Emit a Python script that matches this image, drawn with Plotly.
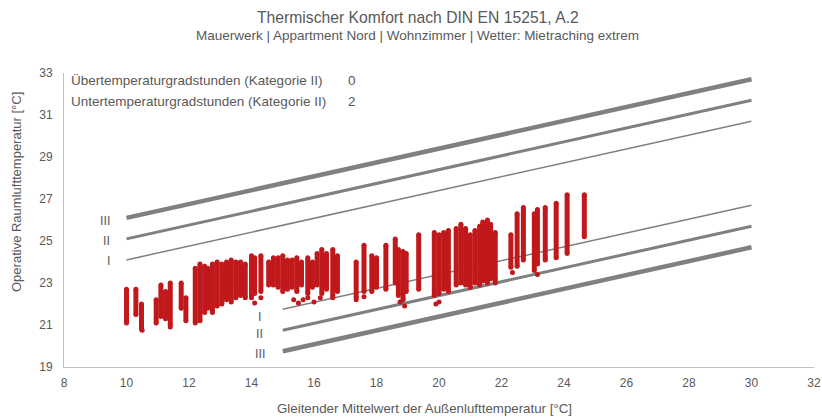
import plotly.graph_objects as go

# ---- data ----
# comfort category boundary lines (DIN EN 15251, A.2), endpoints
upper_x = [10, 30]
upper_I = [24.1, 30.7]
upper_II = [25.1, 31.7]
upper_III = [26.1, 32.7]
lower_x = [15, 30]
lower_I = [21.75, 26.7]
lower_II = [20.75, 25.7]
lower_III = [19.75, 24.7]

# measured hourly values, grouped per day (running mean constant per day):
# x = running mean outdoor temp, lo/hi = range of operative room temperature
strip_x = [10.0, 10.3, 10.48, 10.95, 11.1, 11.25, 11.4, 11.75, 11.9, 12.2, 12.35, 12.5, 12.6,
           12.75, 12.9, 13.05, 13.2, 13.35, 13.5, 13.65, 13.8, 14.0, 14.1, 14.3, 14.55, 14.7,
           14.85, 15.0, 15.15, 15.3, 15.45, 15.6, 15.8, 15.95, 16.1, 16.25, 16.4, 16.6, 16.75,
           17.35, 17.6, 17.85, 18.0, 18.3, 18.6, 18.7, 18.85, 18.95, 19.35, 19.85, 20.0, 20.15,
           20.3, 20.55, 20.7, 20.85, 21.0, 21.15, 21.3, 21.4, 21.55, 21.65, 21.8, 22.3, 22.5,
           22.7, 23.05, 23.15, 23.4, 23.75, 24.1, 24.65]
strip_lo = [21.1, 21.5, 20.8, 21.1, 21.4, 21.3, 21.0, 21.8, 21.2, 21.1, 21.2, 21.6, 21.8,
            21.6, 21.9, 22.0, 22.2, 22.1, 22.3, 22.4, 22.3, 22.3, 22.5, 22.6, 22.9, 22.9,
            22.8, 22.6, 22.7, 22.8, 22.6, 22.9, 22.5, 22.8, 22.9, 22.5, 22.7, 22.3, 22.6,
            22.3, 22.6, 22.6, 22.8, 22.7, 23.0, 22.4, 22.2, 22.6, 22.7, 22.4, 22.5, 22.7,
            22.6, 22.9, 23.0, 22.9, 22.8, 23.0, 22.9, 23.1, 23.0, 23.2, 23.0, 23.75, 23.8,
            24.1, 23.6, 23.9, 24.1, 24.2, 24.4, 25.2]
strip_hi = [22.7, 22.7, 22.0, 22.2, 22.9, 22.6, 23.0, 23.0, 22.3, 23.7, 23.9, 23.8, 23.7,
            23.9, 24.0, 23.9, 24.0, 24.1, 24.0, 24.0, 23.9, 24.3, 24.2, 24.3, 24.0, 24.2,
            24.2, 24.3, 24.1, 24.1, 24.2, 24.0, 24.2, 24.0, 24.4, 24.6, 24.4, 24.6, 24.3,
            24.0, 24.8, 24.3, 24.2, 24.8, 25.1, 24.6, 24.5, 24.4, 25.3, 25.4, 25.3, 25.4,
            25.5, 25.6, 25.8, 25.6, 25.3, 25.5, 25.7, 25.9, 26.0, 25.8, 25.4, 25.3, 26.3,
            26.6, 26.3, 26.5, 26.6, 26.8, 27.2, 27.2]

# isolated hourly values
single_x = [14.1, 14.3, 15.35, 15.5, 15.65, 15.8, 16.0, 16.2, 18.75, 18.9, 19.9, 20.0,
            17.35, 17.6, 22.35, 23.15, 11.4, 10.5]
single_y = [22.05, 22.3, 22.2, 22.05, 22.2, 22.3, 22.1, 22.3, 22.1, 21.9, 22.0, 22.1,
            22.2, 22.35, 23.5, 23.4, 20.9, 20.75]

x_ticks = [8, 10, 12, 14, 16, 18, 20, 22, 24, 26, 28, 30, 32]
y_ticks = [19, 21, 23, 25, 27, 29, 31, 33]

FONT = "Liberation Sans, Arial, sans-serif"
TXT = "#595959"
GREY = "#808080"
RED = "#C0181B"

W, H = 822, 417
# plot-area geometry in page pixels (used only to place free text)
PX_L, PX_R, PX_T, PX_B = 64, 814, 73, 367


def px_x(p):
    return (p - PX_L) / (PX_R - PX_L)


def px_y(p):
    return (PX_B - p) / (PX_B - PX_T)


fig = go.Figure()

# boundary lines
for ys, w in [(upper_III, 4.5), (upper_II, 3), (upper_I, 1.5)]:
    fig.add_trace(go.Scatter(x=upper_x, y=ys, mode="lines",
                             line=dict(color=GREY, width=w), hoverinfo="skip"))
for ys, w in [(lower_I, 1.5), (lower_II, 3), (lower_III, 4.5)]:
    fig.add_trace(go.Scatter(x=lower_x, y=ys, mode="lines",
                             line=dict(color=GREY, width=w), hoverinfo="skip"))

# daily strips
sx, sy = [], []
for x, lo, hi in zip(strip_x, strip_lo, strip_hi):
    sx += [x, x, None]
    sy += [lo, hi, None]
fig.add_trace(go.Scatter(x=sx, y=sy, mode="lines+markers",
                         line=dict(color=RED, width=5),
                         marker=dict(color=RED, size=5)))
fig.add_trace(go.Scatter(x=single_x, y=single_y, mode="markers",
                         marker=dict(color=RED, size=5)))

ann = []
# roman labels
for lab, y in [("III", 25.95), ("II", 25.0), ("I", 24.05)]:
    ann.append(dict(x=9.55, y=y, xref="x", yref="y", text=lab, showarrow=False,
                    xanchor="right", yanchor="middle",
                    font=dict(family=FONT, size=12.5, color=TXT)))
for lab, y in [("I", 21.38), ("II", 20.57), ("III", 19.62)]:
    ann.append(dict(x=14.26, y=y, xref="x", yref="y", text=lab, showarrow=False,
                    xanchor="center", yanchor="middle",
                    font=dict(family=FONT, size=12.5, color=TXT)))
# info box
for txt, val, py in [("Übertemperaturgradstunden (Kategorie II)", "0", 80),
                     ("Untertemperaturgradstunden (Kategorie II)", "2", 101)]:
    ann.append(dict(x=px_x(69), y=px_y(py), xref="paper", yref="paper", text=txt,
                    showarrow=False, xanchor="left", yanchor="middle",
                    font=dict(family=FONT, size=13.5, color=TXT)))
    ann.append(dict(x=px_x(346), y=px_y(py), xref="paper", yref="paper", text=val,
                    showarrow=False, xanchor="left", yanchor="middle",
                    font=dict(family=FONT, size=13.5, color=TXT)))
# title / subtitle
ann.append(dict(x=px_x(418), y=px_y(18), xref="paper", yref="paper",
                text="Thermischer Komfort nach DIN EN 15251, A.2", showarrow=False,
                xanchor="center", yanchor="middle",
                font=dict(family=FONT, size=15.7, color=TXT)))
ann.append(dict(x=px_x(417), y=px_y(35), xref="paper", yref="paper",
                text="Mauerwerk | Appartment Nord | Wohnzimmer | Wetter: Mietraching extrem",
                showarrow=False, xanchor="center", yanchor="middle",
                font=dict(family=FONT, size=13.5, color=TXT)))
# axis titles
ann.append(dict(x=px_x(424), y=px_y(408), xref="paper", yref="paper",
                text="Gleitender Mittelwert der Außenlufttemperatur [°C]", showarrow=False,
                xanchor="center", yanchor="middle",
                font=dict(family=FONT, size=13.3, color=TXT)))
ann.append(dict(x=px_x(16), y=px_y(192), xref="paper", yref="paper",
                text="Operative Raumlufttemperatur [°C]", showarrow=False,
                xanchor="center", yanchor="middle", textangle=-90,
                font=dict(family=FONT, size=13, color=TXT)))

fig.update_layout(
    width=W, height=H,
    margin=dict(l=PX_L, r=W - PX_R, t=PX_T, b=H - PX_B),
    paper_bgcolor="white", plot_bgcolor="white",
    showlegend=False,
    font=dict(family=FONT, size=12, color=TXT),
    annotations=ann,
    xaxis=dict(range=[8, 32], tickvals=x_ticks, showgrid=False, zeroline=False,
               showline=True, linecolor="#BFBFBF", linewidth=1, ticks="",
               tickfont=dict(size=12, color=TXT), automargin=False,
               ticklabelstandoff=5),
    yaxis=dict(range=[19, 33], tickvals=y_ticks, showgrid=False, zeroline=False,
               showline=True, linecolor="#BFBFBF", linewidth=1, ticks="",
               tickfont=dict(size=12, color=TXT), automargin=False,
               ticklabelstandoff=8),
)

# remove the default page margin so the figure sits exactly in the window
fig.write_html(
    "out.html",
    config={"displayModeBar": False},
    post_script="document.body.style.margin='0';document.body.style.overflow='hidden';",
)
